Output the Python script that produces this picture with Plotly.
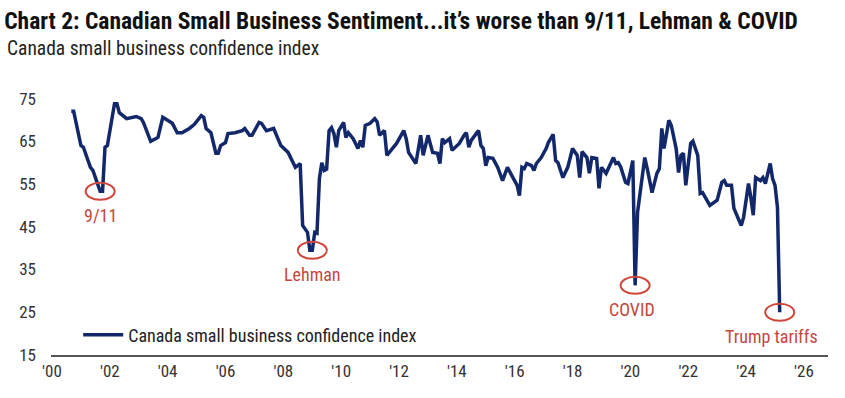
import plotly.graph_objects as go

dates = ["2000-09","2000-10","2001-01","2001-02","2001-05","2001-06","2001-09","2001-10","2001-11","2001-12",
"2002-03","2002-04","2002-05","2002-08","2002-12","2003-02","2003-03","2003-06","2003-08","2003-09","2003-11",
"2004-01","2004-03","2004-05","2004-07","2004-10","2004-12","2005-03","2005-04","2005-05","2005-07","2005-09",
"2005-10","2005-11","2006-01","2006-02","2006-05","2006-08","2006-09","2006-11","2006-12","2007-03","2007-04",
"2007-06","2007-09","2007-12","2008-03","2008-06","2008-08","2008-09","2008-11","2008-12","2009-01","2009-02",
"2009-03","2009-04","2009-05","2009-06","2009-07","2009-08","2009-09","2009-10","2009-11","2009-12","2010-02",
"2010-03","2010-04","2010-06","2010-08","2010-09","2010-10","2010-11","2011-01","2011-03","2011-04","2011-05",
"2011-07","2011-08","2011-09","2011-11","2011-12","2012-03","2012-04","2012-05","2012-08","2012-10","2012-11",
"2012-12","2013-01","2013-03","2013-05","2013-06","2013-07","2013-08","2013-10","2013-11","2014-02","2014-04",
"2014-05","2014-06","2014-07","2014-10","2014-11","2014-12","2015-01","2015-02","2015-04","2015-06","2015-08",
"2015-10","2015-12","2016-02","2016-03","2016-04","2016-05","2016-06","2016-08","2016-09","2016-10","2016-12",
"2017-02","2017-03","2017-05","2017-06","2017-07","2017-09","2017-11","2018-01","2018-03","2018-04","2018-05",
"2018-07","2018-08","2018-09","2018-11","2018-12","2019-01","2019-03","2019-06","2019-07","2019-08","2019-09",
"2019-11","2019-12","2020-02","2020-03","2020-04","2020-05","2020-07","2020-08","2020-10","2020-12","2021-01",
"2021-02","2021-03","2021-05","2021-06","2021-08","2021-09","2021-10","2021-11","2021-12","2022-02","2022-03",
"2022-05","2022-06","2022-07","2022-10","2023-01","2023-03","2023-04","2023-05","2023-07","2023-08","2023-11",
"2023-12","2024-02","2024-03","2024-04","2024-05","2024-07","2024-08","2024-09","2024-11","2024-12","2025-01",
"2025-02","2025-03"]

index_values = [72,72,64,63.6,58.9,58.2,53.3,53.3,63.6,64,
73.8,73.8,71.7,70.3,70.8,70.3,69.4,65,65.6,65.9,70.6,
69.9,69.2,67,67,68,68.9,71,70.6,68,67,62.2,
62.2,64,64.7,66.8,67,67.5,68,66.4,66.4,69.4,69.2,
67.5,68,64,62.4,58.9,59.8,45.3,43.7,39.5,39.5,43.7,
43.5,56.3,60,58.2,58.5,67.5,68.2,66.8,63.6,67.5,69.4,
65.9,67,65.6,63.3,65.2,63.6,68.7,69.2,70.3,69.5,66.4,
67.5,61.7,62.4,63.6,64.5,67.5,65.6,62.4,59.8,66.4,61.7,
64,66.4,62.4,62.2,59.8,65.6,64.7,65.6,62.9,64.5,66.4,
67,63.6,65.2,67.5,64,63.3,59.3,61.2,61,58.9,55.8,
58.9,57,54.7,52.3,58.9,58.6,59.8,59.3,58.2,59.8,61.2,
63.3,64.7,66.6,60.5,60,56.5,58.9,63.3,61.7,56.5,62.6,
61.2,57.5,61.2,61,54,58.9,57.5,61.2,59.8,60,59,
55.4,55.1,60.5,31.3,48.4,53,61.2,58.6,53,57.5,58.6,
68,63.3,69.9,68.7,63.3,57.7,61.7,62.2,54.7,64.5,65,
61.7,52.8,53,50,51.2,55.4,55.8,54.7,54.7,49.3,45.3,
47.2,55.1,51.9,47.7,56.5,55.8,56.5,55.1,59.8,56.3,54.7,
49.5,25]

tick_years = list(range(2000, 2027, 2))
tick_labels = ["'%02d" % (y % 100) for y in tick_years]
y_ticks = [15, 25, 35, 45, 55, 65, 75]

events = ["9/11", "Lehman", "COVID", "Trump tariffs"]
event_dates = ["2001-09", "2009-01", "2020-03", "2025-03"]
event_values = [53.3, 39.5, 31.3, 25]
event_xshift = [0, 0, -3, -8]

FONT = "Roboto Condensed, Liberation Sans Narrow, Arial Narrow, Liberation Sans, sans-serif"
NAVY = "#13286b"
RED = "#d0453b"
RED_TXT = "#c4473e"

fig = go.Figure()
fig.add_trace(go.Scatter(
    x=dates, y=index_values, mode="lines",
    name="Canada small business confidence index",
    line=dict(color=NAVY, width=3.5),
))

shapes = []
annotations = []
for name, d, v, xs in zip(events, event_dates, event_values, event_xshift):
    shapes.append(dict(type="circle", xref="x", yref="y", xsizemode="pixel", ysizemode="pixel",
                       xanchor=d, yanchor=v, x0=-14.5, x1=14.5, y0=-8.5, y1=8.5,
                       line=dict(color=RED, width=2), fillcolor="rgba(0,0,0,0)"))
    annotations.append(dict(x=d, y=v, xref="x", yref="y", text=name, showarrow=False,
                            yshift=-12, xshift=xs, yanchor="top",
                            font=dict(family=FONT, size=18, color=RED_TXT)))

annotations.append(dict(xref="paper", yref="paper", x=-0.059, y=1.157, xanchor="left", yanchor="middle",
                        text="Canada small business confidence index", showarrow=False,
                        font=dict(family=FONT, size=19.5, color="#222")))

fig.update_layout(
    width=845, height=398,
    margin=dict(l=51, r=17, t=90, b=43, autoexpand=False),
    paper_bgcolor="white", plot_bgcolor="white",
    title=dict(text="<b>Chart 2: Canadian Small Business Sentiment...it’s worse than 9/11, Lehman & COVID</b>",
               xref="container", yref="container", x=0.005, xanchor="left", y=1 - 21 / 398, yanchor="middle",
               font=dict(family=FONT, size=23.5, color="#111")),
    font=dict(family=FONT, size=17, color="#333"),
    showlegend=True,
    legend=dict(x=0.035, y=0.075, xanchor="left", yanchor="middle", bgcolor="rgba(0,0,0,0)",
                font=dict(family=FONT, size=18, color="#222"), itemwidth=40),
    shapes=shapes,
    annotations=annotations,
    xaxis=dict(range=["1999-12-20", "2026-11-01"], tickvals=[f"{y}-01-01" for y in tick_years],
               ticktext=tick_labels, showgrid=False, showline=True, linecolor="#555", linewidth=2,
               ticks="", zeroline=False, automargin=False,
               tickfont=dict(family=FONT, size=17, color="#333")),
    yaxis=dict(range=[15, 77], tickvals=y_ticks, showgrid=False, showline=False, zeroline=False,
               ticks="", ticklabelstandoff=14, automargin=False,
               tickfont=dict(family=FONT, size=17, color="#333")),
)

fig.write_html("out.html", config={"displayModeBar": False},
               post_script="document.body.style.margin='0px';")
